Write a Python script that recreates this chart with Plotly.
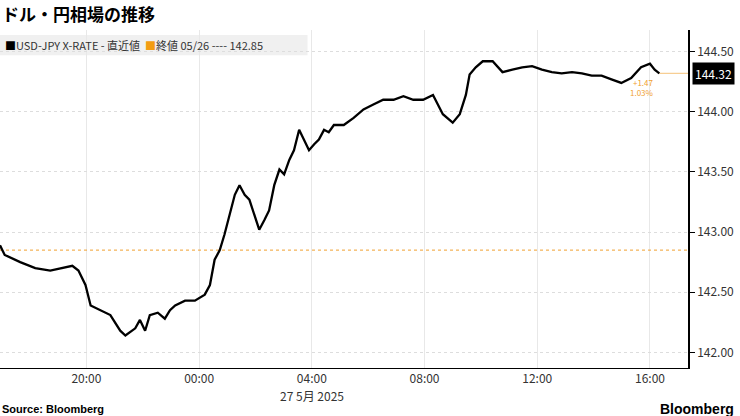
import plotly.graph_objects as go
import pandas as pd

times = ["05-26 16:56","05-26 17:06","05-26 17:39","05-26 18:11","05-26 18:43","05-26 19:15","05-26 19:30","05-26 19:43","05-26 19:58",
"05-26 20:09","05-26 20:30","05-26 20:51","05-26 21:12","05-26 21:23","05-26 21:44","05-26 21:54","05-26 22:05","05-26 22:15","05-26 22:32",
"05-26 22:47","05-26 22:58","05-26 23:09","05-26 23:30","05-26 23:51","05-27 00:12","05-27 00:23","05-27 00:33","05-27 00:44","05-27 00:54",
"05-27 01:05","05-27 01:16","05-27 01:26","05-27 01:37","05-27 01:47","05-27 01:58","05-27 02:08","05-27 02:19","05-27 02:29","05-27 02:40",
"05-27 02:51","05-27 03:01","05-27 03:12","05-27 03:22","05-27 03:33","05-27 03:43","05-27 03:54","05-27 04:05","05-27 04:15","05-27 04:26",
"05-27 04:36","05-27 04:47","05-27 05:08","05-27 05:29","05-27 05:50","05-27 06:11","05-27 06:32","05-27 06:54","05-27 07:15","05-27 07:36",
"05-27 07:57","05-27 08:18","05-27 08:39","05-27 09:00","05-27 09:15","05-27 09:28","05-27 09:36","05-27 09:49","05-27 10:04","05-27 10:25",
"05-27 10:46","05-27 11:07","05-27 11:28","05-27 11:49","05-27 12:10","05-27 12:31","05-27 12:52","05-27 13:14","05-27 13:35","05-27 13:56",
"05-27 14:17","05-27 14:38","05-27 14:59","05-27 15:20","05-27 15:41","05-27 16:00","05-27 16:10","05-27 16:20"]
values = [142.89,142.81,142.75,142.70,142.68,142.71,142.72,142.68,142.56,
142.39,142.35,142.31,142.18,142.14,142.20,142.27,142.18,142.31,142.33,
142.28,142.35,142.39,142.43,142.43,142.48,142.56,142.77,142.85,142.98,
143.14,143.31,143.39,143.31,143.27,143.14,143.02,143.10,143.18,143.39,
143.52,143.48,143.60,143.68,143.85,143.77,143.68,143.73,143.77,143.85,
143.83,143.89,143.89,143.95,144.02,144.06,144.10,144.10,144.13,144.10,
144.10,144.14,143.98,143.91,143.98,144.14,144.31,144.37,144.42,144.42,
144.33,144.35,144.37,144.38,144.35,144.33,144.32,144.33,144.32,144.30,
144.30,144.27,144.24,144.28,144.37,144.40,144.35,144.32]
prev_close = 142.85
last = 144.32
tick_times = ["2025-05-26 20:00","2025-05-27 00:00","2025-05-27 04:00","2025-05-27 08:00","2025-05-27 12:00","2025-05-27 16:00"]
tick_labels = ["20:00","00:00","04:00","08:00","12:00","16:00"]
y_ticks = [142.0,142.5,143.0,143.5,144.0,144.5]

x = pd.to_datetime(["2025-" + t for t in times])
x0, x1 = pd.Timestamp("2025-05-26 16:56"), pd.Timestamp("2025-05-27 17:21")

fig = go.Figure()
fig.add_trace(go.Scatter(x=[x0, x1], y=[prev_close, prev_close], mode="lines",
                         line=dict(color="#f0a030", width=1, dash="dot"), hoverinfo="skip"))
fig.add_trace(go.Scatter(x=[x[-1], x1], y=[last, last], mode="lines",
                         line=dict(color="#f5c27a", width=1), hoverinfo="skip"))
fig.add_trace(go.Scatter(x=x, y=values, mode="lines", line=dict(color="black", width=2.3)))

fig.update_layout(
    width=740, height=416, showlegend=False, plot_bgcolor="white", paper_bgcolor="white",
    margin=dict(l=0, r=52, t=30, b=48, autoexpand=False),
    font=dict(family="Noto Sans CJK JP", size=12, color="#333"),
    xaxis=dict(range=[x0, x1], tickvals=pd.to_datetime(tick_times), ticktext=tick_labels,
               showgrid=True, gridcolor="#e8e8e8", ticks="", zeroline=False, automargin=False,
               showline=True, linecolor="black", linewidth=1, tickfont=dict(size=12, color="#333")),
    yaxis=dict(side="right", range=[141.87, 144.68], tickvals=y_ticks, automargin=False,
               ticktext=[f"{v:.2f}" for v in y_ticks], showgrid=True, gridcolor="#dddddd",
               griddash="dot", ticks="outside", ticklen=5, tickcolor="black",
               showline=True, linecolor="black", linewidth=1.5, zeroline=False,
               tickfont=dict(size=12, color="#333")),
)
fig.add_annotation(x=0.0, y=1.0, xref="paper", yref="paper", xanchor="left", yanchor="bottom", yshift=2,
                   text="<b>ドル・円相場の推移</b>", showarrow=False, font=dict(size=17, color="black"))
fig.add_shape(type="rect", xref="paper", yref="paper", x0=0, x1=0.447, y0=0.925, y1=0.985,
              fillcolor="#f0f0f0", line=dict(width=0), layer="below")
fig.add_annotation(x=0.005, y=0.955, xref="paper", yref="paper", xanchor="left", yanchor="middle",
                   text="<span style='color:#000'>■</span>USD-JPY X-RATE - 直近値  <span style='color:#f39c12'>■</span>終値 05/26 ---- 142.85",
                   showarrow=False, font=dict(size=11, color="#333"))
fig.add_annotation(x=1.0, xref="paper", y=last, yref="y", xanchor="left", text="144.32",
                   showarrow=False, bgcolor="black", font=dict(color="white", size=12), borderpad=2, xshift=4)
fig.add_annotation(x=x1, y=last, yref="y", xanchor="right", yanchor="top", align="right",
                   text="+1.47<br>1.03%", showarrow=False, font=dict(color="#f0a030", size=8), xshift=-32, yshift=-2)
fig.add_annotation(x=pd.Timestamp("2025-05-27 04:00"), y=-0.08, yref="paper", yanchor="middle",
                   text="27 5月 2025", showarrow=False, font=dict(size=12, color="#333"))
fig.add_annotation(x=0.0, y=-0.12, xref="paper", yref="paper", xanchor="left", yanchor="middle",
                   text="<b>Source: Bloomberg</b>", showarrow=False, font=dict(size=11, color="black", family="Liberation Sans"))
fig.add_annotation(x=1.07, y=-0.12, xref="paper", yref="paper", xanchor="right", yanchor="middle",
                   text="<b>Bloomberg</b>", showarrow=False, font=dict(size=14, color="black", family="Liberation Sans"))
fig.write_html("out.html", config={"displayModeBar": False},
               post_script="document.body.style.margin='0';document.body.style.overflow='hidden';")
